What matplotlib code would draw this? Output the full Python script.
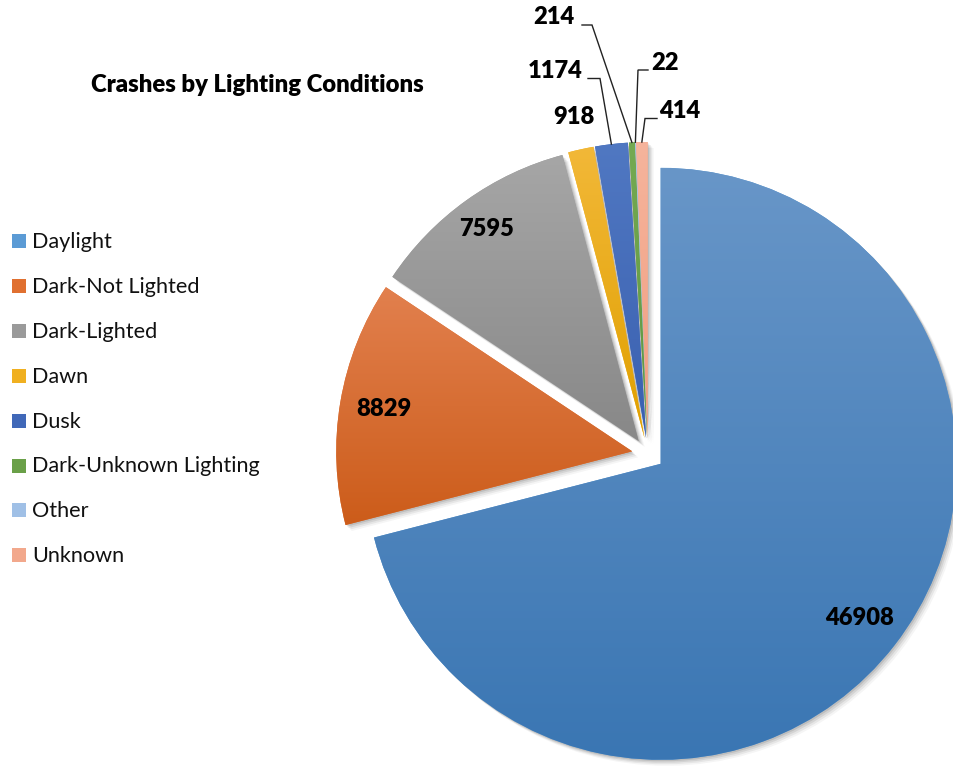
import matplotlib
matplotlib.use('Agg')
import matplotlib.pyplot as plt
import numpy as np
from matplotlib.patches import Rectangle, Wedge
from matplotlib.colors import LinearSegmentedColormap

# ---------------- data ----------------
categories = ['Daylight', 'Dark-Not Lighted', 'Dark-Lighted', 'Dawn', 'Dusk',
              'Dark-Unknown Lighting', 'Other', 'Unknown']
counts = [46908, 8829, 7595, 918, 1174, 214, 22, 414]
title = 'Crashes by Lighting Conditions'

# ---------------- style ----------------
legend_colors = ['#5B9BD5', '#E07030', '#9A9A9A', '#F0B020', '#4068B8',
                 '#6AA048', '#A0C0E6', '#F2A88C']
grad_top = ['#6896C8', '#E2804E', '#A6A6A6', '#F2B838', '#5078C2',
            '#74AA52', '#A8C8EA', '#F6B49C']
grad_bot = ['#3A76B3', '#CC5C1A', '#888888', '#E0A000', '#3A60B0',
            '#5E9640', '#90B4DE', '#F09E80']

FONT = 'Lato'
BOLD = 'heavy'
W, H = 954, 767
R = 296.0          # pie radius in pixels
CX, CY = 648, 454  # pie centre in pixels (from top-left)

fig = plt.figure(figsize=(W / 100, H / 100), dpi=100)
ax = fig.add_axes([0, 0, 1, 1])

def px(x, y):
    """pixel (from top-left) -> data coords"""
    return (x - CX) / R, (CY - y) / R

wedges, _ = ax.pie(counts, startangle=90, counterclock=False,
                   explode=[16 / R] * len(counts), radius=1,
                   wedgeprops=dict(linewidth=0))

ax.set_xlim(-CX / R, (W - CX) / R)
ax.set_ylim(-(H - CY) / R, CY / R)
ax.set_aspect('equal')
ax.axis('off')

# shadows + gradients
grad = np.linspace(0, 1, 256).reshape(-1, 1)
for i, w in enumerate(wedges):
    for k, a in [(6, 0.04), (4.5, 0.06), (3, 0.08), (1.5, 0.10)]:
        sh = Wedge((w.center[0] + k / R, w.center[1] - k / R), w.r,
                   w.theta1, w.theta2, facecolor='black', alpha=a,
                   linewidth=0, zorder=0.5)
        ax.add_patch(sh)
    w.set_zorder(1)
    w.set_facecolor(legend_colors[i])
    ext = w.get_path().get_extents()
    cmap = LinearSegmentedColormap.from_list('g%d' % i, [grad_bot[i], grad_top[i]])
    im = ax.imshow(grad, extent=[ext.x0, ext.x1, ext.y0, ext.y1], origin='lower',
                   cmap=cmap, aspect='auto', zorder=2, interpolation='bilinear')
    im.set_clip_path(w)

ax.set_xlim(-CX / R, (W - CX) / R)
ax.set_ylim(-(H - CY) / R, CY / R)

renderer = fig.canvas.get_renderer()

def fit_size(s, target_px, weight='normal'):
    t = fig.text(0, 0, s, fontsize=20, fontweight=weight, family=FONT)
    wpx = t.get_window_extent(renderer).width
    t.remove()
    return 20 * target_px / wpx

# title
ts = fit_size(title, 333, BOLD)
fig.text(257 / W, 1 - 92 / H, title, fontsize=ts, fontweight=BOLD,
         family=FONT, ha='center', va='baseline')

# legend (manual)
ls = fit_size('Dark-Unknown Lighting', 228)
for i, lab in enumerate(categories):
    top = 234 + 44.9 * i
    fig.patches.append(Rectangle((12 / W, 1 - (top + 14) / H), 14 / W, 14 / H,
                                 transform=fig.transFigure, facecolor=legend_colors[i],
                                 edgecolor='none', figure=fig))
    fig.text(32 / W, 1 - (top + 14) / H, lab, fontsize=ls, family=FONT,
             ha='left', va='baseline', color='#111111')

# data labels
ds = fit_size('46908', 69, BOLD)
inside_dist = [0.85, 0.85, 0.88]
for i in range(3):
    w = wedges[i]
    th = np.deg2rad((w.theta1 + w.theta2) / 2)
    x = w.center[0] + inside_dist[i] * np.cos(th)
    y = w.center[1] + inside_dist[i] * np.sin(th)
    ax.text(x, y, str(counts[i]), fontsize=ds, fontweight=BOLD, family=FONT,
            ha='center', va='center', color='black', zorder=5)

def edge_point(i):
    w = wedges[i]
    th = np.deg2rad((w.theta1 + w.theta2) / 2)
    return w.center[0] + w.r * np.cos(th), w.center[1] + w.r * np.sin(th)

# outside labels: (index, text centre px, leader start x px, elbow x px)
outside = [(3, (574, 117.5), None, None),
           (4, (555, 71), 588, 600),
           (5, (554, 17.5), 582, 592),
           (6, (665, 62.5), 648, 638),
           (7, (680, 111), 657, 645)]
for idx, (tx, ty), sx, ex in outside:
    x, y = px(tx, ty)
    ax.text(x, y, str(counts[idx]), fontsize=ds, fontweight=BOLD, family=FONT,
            ha='center', va='center', color='black', zorder=5)
    if sx is not None:
        p1 = px(sx, ty + 7.5)
        p2 = px(ex, ty + 7.5)
        p3 = edge_point(idx)
        ax.plot([p1[0], p2[0], p3[0]], [p1[1], p2[1], p3[1]], color='#222222',
                lw=1.0, zorder=4, solid_joinstyle='miter')

fig.savefig('out.png', dpi=100, facecolor='white')
